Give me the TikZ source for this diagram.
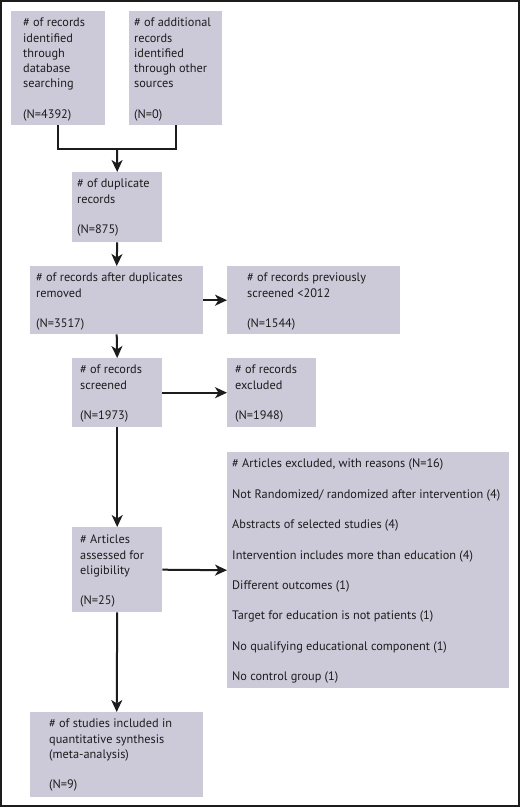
\documentclass[tikz,border=0pt]{standalone}
\usepackage{fontspec}
\setmainfont{PT Sans}
\usetikzlibrary{arrows.meta}
\definecolor{boxfill}{RGB}{204,202,217}
\definecolor{ink}{RGB}{30,27,28}
\begin{document}
\begin{tikzpicture}[x=1pt,y=-1pt,
  box/.style={draw=none,fill=boxfill,rectangle,inner sep=0pt,anchor=north west},
  txt/.style={anchor=north west,inner sep=0pt,align=left,text=ink,font=\fontsize{12.3}{15.2}\selectfont},
  conn/.style={draw=ink,line width=2pt},
  arr/.style={conn,-{Stealth[length=12pt,width=11pt,inset=3.5pt]}}]
\useasboundingbox (0,0) rectangle (520,808);
\draw[draw=ink,line width=2pt] (1,1.2) rectangle (519,806.4);
% boxes
\node[box,minimum width=94pt,minimum height=114pt] (b1) at (11,11) {};
\node[box,minimum width=93pt,minimum height=114pt] (b2) at (129,11) {};
\node[box,minimum width=90pt,minimum height=70pt] (b3) at (72,172) {};
\node[box,minimum width=173pt,minimum height=68pt] (b4) at (30,266) {};
\node[box,minimum width=173pt,minimum height=68pt] (b5) at (227,266) {};
\node[box,minimum width=90pt,minimum height=69pt] (b6) at (72,358) {};
\node[box,minimum width=89pt,minimum height=69pt] (b7) at (227,358) {};
\node[box,minimum width=90pt,minimum height=85pt] (b8) at (72,527) {};
\node[box,minimum width=282pt,minimum height=236pt] (b9) at (227,452) {};
\node[box,minimum width=173pt,minimum height=85pt] (b10) at (30,712) {};
% texts
\node[txt,xshift=12pt,yshift=-7pt] (t1) at (b1.north west) {\# of records\\identified\\through\\database\\searching\\[15.2pt](N=4392)};
\node[txt,xshift=5pt,yshift=-7pt] (t2) at (b2.north west) {\# of additional\\records\\identified\\through other\\sources\\[15.2pt](N=0)};
\node[txt,xshift=5pt,yshift=-7pt] (t3) at (b3.north west) {\# of duplicate\\records\\[15.2pt](N=875)};
\node[txt,xshift=6pt,yshift=-7pt] (t4) at (b4.north west) {\# of records after duplicates\\removed\\[15.2pt](N=3517)};
\node[txt,xshift=20pt,yshift=-7pt] (t5) at (b5.north west) {\# of records previously\\screened <2012\\[15.2pt](N=1544)};
\node[txt,xshift=8pt,yshift=-7pt] (t6) at (b6.north west) {\# of records\\screened\\[15.2pt](N=1973)};
\node[txt,xshift=8pt,yshift=-7pt] (t7) at (b7.north west) {\# of records\\excluded\\[15.2pt](N=1948)};
\node[txt,xshift=8pt,yshift=-8pt] (t8) at (b8.north west) {\# Articles\\assessed for\\eligibility\\[15.2pt](N=25)};
\node[txt,xshift=5pt,yshift=-7pt] (t9) at (b9.north west) {\# Articles excluded, with reasons (N=16)\\[15.2pt]Not Randomized/ randomized after intervention (4)\\[15.2pt]Abstracts of selected studies (4)\\[15.2pt]Intervention includes more than education (4)\\[15.2pt]Different outcomes (1)\\[15.2pt]Target for education is not patients (1)\\[15.2pt]No qualifying educational component (1)\\[15.2pt]No control group (1)};
\node[txt,xshift=19pt,yshift=-7pt] (t10) at (b10.north west) {\# of studies included in\\quantitative synthesis\\(meta-analysis)\\[15.2pt](N=9)};
% connectors
\coordinate (j) at (117,149);
\draw[conn] (b1.south) |- (j) -| (b2.south);
\draw[arr] (j) -- (b3.north);
\draw[arr] (b3.south) -- (b4.north);
\draw[arr] (b4.east) -- (b5.west);
\draw[arr] (b4.south) -- (b6.north);
\draw[arr] (b6.east) -- (b7.west);
\draw[arr] (b6.south) -- (b8.north);
\draw[arr] (b8.east) -- (b9.west);
\draw[arr] (b8.south) -- (b10.north);
\end{tikzpicture}
\end{document}
